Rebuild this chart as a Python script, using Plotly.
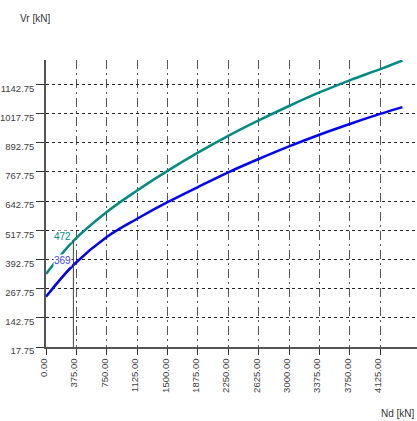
import plotly.graph_objects as go

# Data
nd = [0, 338, 750, 1125, 1500, 1875, 2250, 2625, 3000, 3375, 3750, 4125, 4400]
vr_teal = [330, 472, 596, 688, 772, 850, 922, 988, 1050, 1108, 1160, 1208, 1245]
vr_blue = [233, 369, 489, 567, 638, 703, 766, 823, 877, 927, 973, 1016, 1045]

sel_nd = 338
sel_teal = 472
sel_blue = 369

x_ticks = [375 * k for k in range(12)]
y_ticks = [17.75 + 125 * k for k in range(10)]

TEAL = "#008c82"
BLUE = "#0000ff"
FONT = "Liberation Sans"

fig = go.Figure()
fig.add_trace(go.Scatter(x=nd, y=vr_teal, mode="lines", line=dict(color=TEAL, width=2.5, shape="spline"),
                         showlegend=False, hoverinfo="skip"))
fig.add_trace(go.Scatter(x=nd, y=vr_blue, mode="lines", line=dict(color=BLUE, width=2.5, shape="spline"),
                         showlegend=False, hoverinfo="skip"))

# selected vertical marker line
fig.add_shape(type="line", xref="x", yref="y", x0=sel_nd, x1=sel_nd, y0=17.75, y1=sel_teal,
              line=dict(color="#404040", width=1), layer="above")

fig.add_annotation(x=sel_nd, y=sel_teal, xref="x", yref="y", text=str(sel_teal), showarrow=False,
                   xanchor="right", yanchor="bottom", xshift=-1, yshift=-2, bgcolor="white",
                   font=dict(family=FONT, size=10, color=TEAL), borderpad=0)
fig.add_annotation(x=sel_nd, y=sel_blue, xref="x", yref="y", text=str(sel_blue), showarrow=False,
                   xanchor="right", yanchor="bottom", xshift=-1, yshift=-2, bgcolor="white",
                   font=dict(family=FONT, size=10, color="#4040ff"), borderpad=0)

fig.add_annotation(xref="paper", yref="paper", x=-0.0755, y=1.146, text="Vr [kN]", showarrow=False,
                   xanchor="left", yanchor="middle", font=dict(family=FONT, size=10, color="#333333"))
fig.add_annotation(xref="paper", yref="paper", x=1.0, y=-0.233, text="Nd [kN]", showarrow=False,
                   xanchor="right", yanchor="middle", font=dict(family=FONT, size=10, color="#333333"))

fig.update_xaxes(range=[0, 4580], tickvals=x_ticks, tickformat=".2f", tickangle=-90,
                 showgrid=True, gridcolor="#555555", griddash="9px,4px,2px,4px", gridwidth=1,
                 showline=True, linecolor="#555555", linewidth=1.5,
                 ticks="outside", ticklen=6, tickcolor="#333333",
                 tickfont=dict(family=FONT, size=9.5, color="#404040"),
                 ticklabelshift=-2, zeroline=False, fixedrange=True, automargin=False)
fig.update_yaxes(range=[17.75, 1247], tickvals=y_ticks, tickformat=".2f",
                 showgrid=True, gridcolor="#222222", griddash="3px,3px", gridwidth=1,
                 showline=True, linecolor="#555555", linewidth=1.5,
                 ticks="outside", ticklen=8, tickcolor="#333333",
                 tickfont=dict(family=FONT, size=9.5, color="#404040"),
                 ticklabelshift=4, ticklabelstandoff=0, zeroline=False, fixedrange=True, automargin=False)

fig.update_layout(width=417, height=421, margin=dict(l=46, r=0, t=60, b=74),
                  plot_bgcolor="white", paper_bgcolor="white")

fig.write_html("out.html", config={"displayModeBar": False},
               post_script="document.body.style.margin='0';document.body.style.overflow='hidden';")
